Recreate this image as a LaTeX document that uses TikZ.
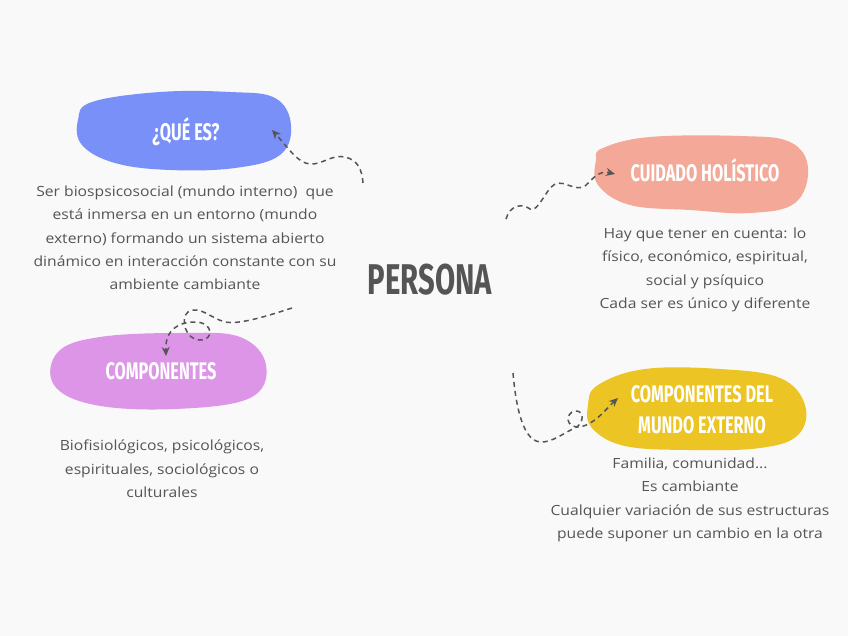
\documentclass[tikz,border=0pt]{standalone}
\usepackage{fontspec}
\setmainfont[FakeStretch=1.12]{Open Sans}
\newfontfamily\hand[FakeStretch=0.68]{Fira Sans}
\usetikzlibrary{arrows.meta}
\definecolor{bg}{HTML}{F9F9F9}
\definecolor{blu}{HTML}{7890F7}
\definecolor{sal}{HTML}{F4A898}
\definecolor{pur}{HTML}{DD95E8}
\definecolor{yel}{HTML}{ECC423}
\definecolor{ink}{HTML}{555555}
\tikzset{
  blob/.style={draw=none},
  head/.style={text=white,font=\hand\bfseries\fontsize{24}{26}\selectfont,align=center},
  body/.style={text=ink,font=\fontsize{14}{23.3}\selectfont,align=center},
  conn/.style={draw=ink,line width=1.5pt,dash pattern=on 5pt off 4pt,-{Stealth[length=9pt,width=8pt]}},
}
\begin{document}
\begin{tikzpicture}[x=1pt,y=-1pt]
\fill[bg] (0,0) rectangle (848,636);
\useasboundingbox (0,0) rectangle (848,636);
% blobs
\fill[blu] plot[smooth cycle,tension=0.65] coordinates{(92,102) (160,92) (230,92) (275,98) (291,125) (280,155) (235,168) (170,170) (115,163) (82,145) (78,120)};
\fill[pur] plot[smooth cycle,tension=0.65] coordinates{(58,352) (100,337) (180,333) (240,337) (266,365) (250,398) (175,409) (95,405) (54,385)};
\fill[sal] plot[smooth cycle,tension=0.65] coordinates{(603,148) (650,137) (740,136) (790,142) (808,168) (795,203) (750,213) (690,210) (630,205) (598,185) (596,160)};
\fill[yel] plot[smooth cycle,tension=0.65] coordinates{(598,385) (645,369) (720,369) (780,378) (805,405) (798,435) (760,448) (690,450) (625,446) (592,428) (588,405)};
% headings
\node[head] (q) at (186,132) {¿QUÉ ES?};
\node[head] (c) at (161,371) {COMPONENTES};
\node[head] (h) at (705,170) {CUIDADO HOLÍSTICO};
\node[head,font=\hand\bfseries\fontsize{24}{31}\selectfont] (m) at (702,410) {COMPONENTES DEL\\MUNDO EXTERNO};
\node[text=ink,font=\hand\bfseries\fontsize{43}{43}\selectfont] (p) at (430,280) {PERSONA};
% texts
\node[body] (qt) at (185,238) {Ser biospsicosocial (mundo interno)\ \ que\\está inmersa en un entorno (mundo\\externo) formando un sistema abierto\\dinámico en interacción constante con su\\ambiente cambiante};
\node[body] (ct) at (162,469) {Biofisiológicos, psicológicos,\\espirituales, sociológicos o\\culturales};
\node[body] (ht) at (705,270) {Hay que tener en cuenta: lo\\físico, económico, espiritual,\\social y psíquico\\Cada ser es único y diferente};
\node[body] (mt) at (690,500) {Familia, comunidad...\\Es cambiante\\Cualquier variación de sus estructuras\\puede suponer un cambio en la otra};
% connector coordinates
\coordinate (s1) at (363,183); \coordinate (e1) at (272,130);
\coordinate (s2) at (292,308); \coordinate (e2) at (166,356);
\coordinate (s3) at (506,219); \coordinate (e3) at (615,174);
\coordinate (s4) at (513,373); \coordinate (e4) at (618,398);
\draw[conn] (s1) .. controls (362,170) and (358,160) .. (345,157)
  .. controls (332,154) and (322,165) .. (310,164)
  .. controls (298,163) and (290,150) .. (e1);
\draw[conn] (s2) .. controls (270,315) and (240,325) .. (225,322)
  .. controls (210,318) and (200,305) .. (188,312)
  .. controls (180,318) and (185,340) .. (200,340)
  .. controls (215,340) and (213,322) .. (195,322)
  .. controls (178,322) and (165,330) .. (e2);
\draw[conn] (s3) .. controls (510,205) and (522,203) .. (530,209)
  .. controls (538,213) and (545,190) .. (555,184)
  .. controls (565,180) and (575,192) .. (585,186)
  .. controls (592,180) and (598,170) .. (e3);
\draw[conn] (s4) .. controls (515,395) and (520,440) .. (540,442)
  .. controls (552,443) and (565,432) .. (575,428)
  .. controls (584,424) and (585,410) .. (575,411)
  .. controls (565,413) and (565,428) .. (580,427)
  .. controls (595,424) and (605,410) .. (e4);
\end{tikzpicture}
\end{document}
